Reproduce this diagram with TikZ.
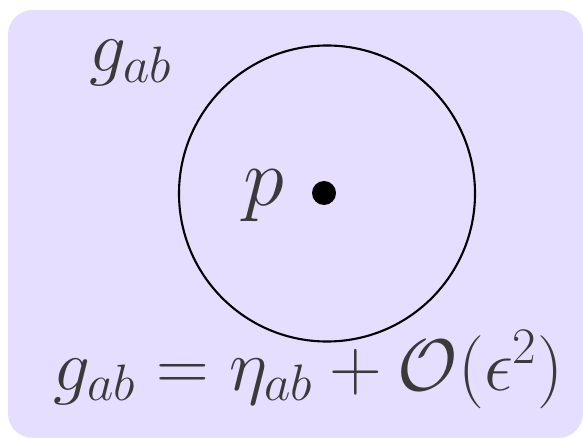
\documentclass[tikz,border=0pt]{standalone}
\usepackage{fix-cm}
\usepackage{amsmath}
\definecolor{lavanda}{RGB}{229,222,255}
\definecolor{testo}{RGB}{58,58,58}

\begin{document}
\begin{tikzpicture}[x=0.025cm,y=-0.025cm,
                    every node/.style={font=\fontsize{52}{62}\selectfont,text=testo,inner sep=0pt},
                    sfondo/.style={fill=lavanda,rounded corners=0.62cm},
                    intorno/.style={draw=black,line width=1.5pt},
                    punto/.style={circle,fill=black,minimum size=0.6cm}]
  \useasboundingbox (0,0) rectangle (583,438);
  \fill[sfondo] (8,10) rectangle (583,438);
  \draw[intorno] (327,193.5) circle[radius=148];
  \node[punto] (p) at (324,193) {};
  \node[anchor=base west,font=\fontsize{59}{70}\selectfont] (nomep) at (243,206) {$p$};
  \node[anchor=base west] (metrica) at (89,72) {$g_{ab}$};
  \node[anchor=base west] (sviluppo) at (53,390) {$g_{ab}=\eta_{ab}+\mathcal{O}(\epsilon^2)$};
\end{tikzpicture}
\end{document}
